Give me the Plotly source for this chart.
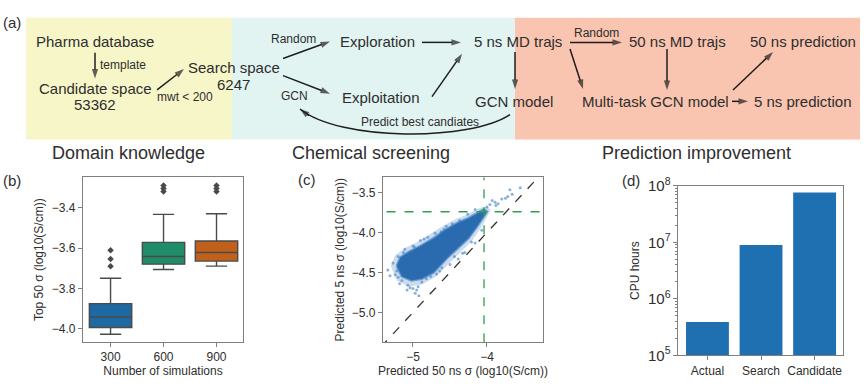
import plotly.graph_objects as go

W, H = 867, 388
FONT = "Liberation Sans, Arial, sans-serif"
TXT = "#2e2e2e"
SPINE = "#7f7f7f"

# ---------------- data: panel (b) ----------------
sims = ["300", "600", "900"]
box_q1 = [-3.994, -3.680, -3.665]
box_median = [-3.942, -3.642, -3.622]
box_q3 = [-3.876, -3.572, -3.565]
box_low = [-4.028, -3.707, -3.690]
box_high = [-3.750, -3.433, -3.430]
box_colors = ["#1d6aa3", "#1f8d6a", "#c0601b"]
out_x = ["300", "300", "300", "600", "600", "600", "900", "900", "900"]
out_y = [-3.611, -3.654, -3.690, -3.290, -3.305, -3.320, -3.290, -3.305, -3.320]

# ---------------- data: panel (c) ----------------
# outline of the dense point cloud
cloud_halo_x = [-5.30, -5.22, -5.05, -4.88, -4.70, -4.52, -4.36, -4.20, -4.08, -4.00,
                -3.95, -4.00, -4.12, -4.26, -4.42, -4.58, -4.76, -4.94, -5.10, -5.24]
cloud_halo_y = [-4.42, -4.60, -4.68, -4.65, -4.56, -4.39, -4.25, -4.10, -3.94, -3.80,
                -3.72, -3.67, -3.70, -3.77, -3.83, -3.91, -4.02, -4.12, -4.19, -4.28]
cloud_core_x = [-5.22, -5.15, -5.02, -4.88, -4.72, -4.55, -4.40, -4.25, -4.13, -4.05,
                -4.00, -4.04, -4.12, -4.25, -4.40, -4.55, -4.72, -4.90, -5.05, -5.17]
cloud_core_y = [-4.42, -4.55, -4.60, -4.58, -4.50, -4.33, -4.20, -4.07, -3.92, -3.80,
                -3.74, -3.71, -3.75, -3.82, -3.88, -3.96, -4.07, -4.17, -4.24, -4.31]
# sparse points around the cloud
sparse_x = [-3.69, -3.55, -3.66, -3.80, -3.89, -3.96, -3.85, -3.93, -3.75, -4.00, -3.88, -3.72,
            -5.24, -5.20, -4.97, -4.95, -5.07, -4.88, -5.11, -5.31, -5.22, -5.00, -4.82, -5.15,
            -4.70, -4.47, -4.26, -4.16, -5.11, -4.39, -4.61, -4.16, -4.07, -4.90, -5.00, -4.55,
            -4.30, -4.50, -5.27, -5.18, -5.04, -4.93, -4.76, -4.64, -4.33, -4.21, -4.85, -4.62,
            -5.13, -4.98, -5.34, -5.08, -4.92, -4.68, -4.44, -4.37, -4.80, -5.20, -4.58, -4.12]
sparse_y = [-3.465, -3.44, -3.52, -3.58, -3.62, -3.65, -3.64, -3.60, -3.57, -3.68, -3.66, -3.55,
            -4.53, -4.56, -4.76, -4.72, -4.66, -4.62, -4.44, -4.54, -4.48, -4.70, -4.58, -4.60,
            -4.01, -3.89, -3.77, -3.71, -4.21, -4.33, -4.44, -4.13, -3.97, -4.10, -4.17, -3.92,
            -4.25, -4.40, -4.38, -4.64, -4.69, -4.68, -4.55, -4.48, -4.26, -4.12, -4.08, -3.99,
            -4.25, -4.18, -4.47, -4.72, -4.79, -4.52, -4.30, -3.85, -4.06, -4.30, -3.96, -3.80]
diag = [-5.6, -3.0]
cut_x = -4.04   # vertical green threshold
cut_y = -3.74   # horizontal green threshold

# ---------------- data: panel (d) ----------------
cpu_cats = ["Actual", "Search", "Candidate"]
cpu_hours = [3.9e5, 9.0e6, 7.65e7]

# ---------------- diagram (a): arrows in pixel space ----------------
arrows_px = [
    (95, 44, 95, 71), (157, 83, 184, 61), (283, 50, 330, 32), (283, 68, 330, 87),
    (422, 33, 461, 33), (432, 90, 462, 45), (515, 43, 515, 82), (570, 33, 622, 33),
    (570, 40, 583, 82), (667, 40, 667, 83), (732, 95, 748, 95), (733, 83, 773, 43),
    (309, 110, 300, 103),
]

fig = go.Figure()

# panel (b) boxes
for i, s in enumerate(sims):
    fig.add_trace(go.Box(
        x=[s], q1=[box_q1[i]], median=[box_median[i]], q3=[box_q3[i]],
        lowerfence=[box_low[i]], upperfence=[box_high[i]],
        fillcolor=box_colors[i], line=dict(color="#4a4a4a", width=1.4),
        width=0.8, whiskerwidth=0.5, boxpoints=False, showlegend=False,
        xaxis="x", yaxis="y"))
fig.add_trace(go.Scatter(
    x=out_x, y=out_y, mode="markers",
    marker=dict(symbol="diamond", size=5, color="#4a4a4a"),
    showlegend=False, xaxis="x", yaxis="y"))

# panel (c) scatter cloud
fig.add_trace(go.Scatter(
    x=cloud_halo_x + cloud_halo_x[:1], y=cloud_halo_y + cloud_halo_y[:1],
    mode="lines", fill="toself", fillcolor="rgba(55,120,192,0.26)",
    line=dict(width=0), showlegend=False, xaxis="x2", yaxis="y2"))
fig.add_trace(go.Scatter(
    x=sparse_x, y=sparse_y, mode="markers",
    marker=dict(size=3, color="#4a88c8", opacity=0.65),
    showlegend=False, xaxis="x2", yaxis="y2"))
fig.add_trace(go.Scatter(
    x=cloud_core_x + cloud_core_x[:1], y=cloud_core_y + cloud_core_y[:1],
    mode="lines", fill="toself", fillcolor="#2a6aae",
    line=dict(color="rgba(50,115,185,0.6)", width=2.5),
    showlegend=False, xaxis="x2", yaxis="y2"))
fig.add_trace(go.Scatter(
    x=diag, y=diag, mode="lines", line=dict(color="#333333", width=1.3, dash="dash"),
    showlegend=False, xaxis="x2", yaxis="y2"))
fig.add_trace(go.Scatter(
    x=[cut_x, cut_x], y=diag, mode="lines", line=dict(color="#2e9e4f", width=1.3, dash="dash"),
    showlegend=False, xaxis="x2", yaxis="y2"))
fig.add_trace(go.Scatter(
    x=diag, y=[cut_y, cut_y], mode="lines", line=dict(color="#2e9e4f", width=1.3, dash="dash"),
    showlegend=False, xaxis="x2", yaxis="y2"))

# panel (d) bars
fig.add_trace(go.Bar(
    x=cpu_cats, y=cpu_hours, width=0.8, marker=dict(color="#1f70b1", line=dict(width=0)),
    showlegend=False, xaxis="x3", yaxis="y3"))

# diagram arrows (pixel-space overlay axis)
ax_x, ax_y, ax_s = [], [], []
for x0, y0, x1, y1 in arrows_px:
    ax_x += [x0, x1, None]
    ax_y += [y0, y1, None]
    ax_s += [0, 10, 0]
fig.add_trace(go.Scatter(
    x=ax_x, y=ax_y, mode="lines+markers",
    line=dict(color="#1e1e1e", width=1.5),
    marker=dict(symbol="arrow", size=ax_s, angleref="previous", color="#1e1e1e",
                line=dict(width=0)),
    showlegend=False, hoverinfo="skip", xaxis="x4", yaxis="y4"))


def px(x0, x1):
    return [x0 / W, x1 / W]


def py(top, bottom):
    return [1 - bottom / H, 1 - top / H]


axis = dict(showline=True, mirror=True, linecolor=SPINE, linewidth=1.2, ticks="outside",
            ticklen=4, tickcolor=SPINE, tickfont=dict(size=12, color=TXT, family=FONT),
            showgrid=False, zeroline=False, fixedrange=True)
tfont = dict(size=12, color=TXT, family=FONT)

fig.update_layout(
    width=W, height=H, margin=dict(l=0, r=0, t=0, b=0),
    paper_bgcolor="white", plot_bgcolor="rgba(0,0,0,0)",
    font=dict(family=FONT, color=TXT),
    xaxis=dict(axis, domain=px(83, 243), anchor="y", type="category", range=[-0.52, 2.5],
               title=dict(text="Number of simulations", font=tfont, standoff=0)),
    yaxis=dict(axis, domain=py(175, 348), anchor="x", range=[-4.066, -3.25],
               tick0=-4.0, dtick=0.2, tickformat=".1f",
               title=dict(text="Top 50 σ (log10(S/cm))", font=tfont, standoff=5)),
    xaxis2=dict(axis, domain=px(383, 543), anchor="y2", range=[-5.405, -3.243],
                tick0=-5, dtick=1,
                title=dict(text="Predicted 50 ns σ (log10(S/cm))", font=tfont, standoff=0)),
    yaxis2=dict(axis, domain=py(175, 348), anchor="x2", range=[-5.37, -3.31],
                tick0=-5, dtick=0.5, tickformat=".1f",
                title=dict(text="Predicted 5 ns σ (log10(S/cm))", font=tfont, standoff=4)),
    xaxis3=dict(axis, domain=px(678, 843), anchor="y3", type="category", range=[-0.55, 2.53]),
    yaxis3=dict(axis, domain=py(184, 362), anchor="x3", type="log", range=[5, 8],
                dtick=1, exponentformat="power",
                minor=dict(ticks="outside", ticklen=2, tickcolor=SPINE, dtick="D1"),
                title=dict(text="CPU hours", font=tfont, standoff=5)),
    xaxis4=dict(domain=[0, 1], anchor="y4", range=[0, W], visible=False, fixedrange=True),
    yaxis4=dict(domain=[0, 1], anchor="x4", range=[H, 0], visible=False, fixedrange=True),
)

# background blocks of panel (a)
blocks = [(26, 232, "#f7f6c9"), (232, 515, "#e1f4f1"), (515, 860, "#f9c4b0")]
for x0, x1, c in blocks:
    fig.add_shape(type="rect", xref="x4", yref="y4", x0=x0, x1=x1, y0=7, y1=135,
                  fillcolor=c, line=dict(width=0), layer="below")

# curved feedback arrow body
fig.add_shape(type="path", xref="x4", yref="y4",
              path="M 510,109 C 470,137 340,137 300,103",
              line=dict(color="#1e1e1e", width=1.5))


def label(text, x, y, size=15, angle=0):
    fig.add_annotation(text=text, x=x, y=y, xref="x4", yref="y4", showarrow=False,
                       font=dict(size=size, color=TXT, family=FONT),
                       xanchor="center", yanchor="middle", textangle=angle)


# panel letters
label("(a)", 12, 12, 15)
label("(b)", 12, 178, 15)
label("(c)", 307, 177, 15)
label("(d)", 631, 178, 15)

# diagram texts
label("Pharma database", 95, 32)
label("template", 123, 57, 12)
label("Candidate space", 95, 82)
label("53362", 95, 98)
label("mwt < 200", 185, 90, 12)
label("Search space", 234, 59)
label("6247", 233, 77)
label("Random", 293, 29, 12)
label("GCN", 294, 89, 12)
label("Exploration", 377, 32)
label("Exploitation", 381, 91)
label("5 ns MD trajs", 518, 32)
label("GCN model", 514, 95)
label("Predict best candiates", 420, 117, 12)
label("Random", 596, 23, 12)
label("50 ns MD trajs", 677, 32)
label("50 ns prediction", 803, 32)
label("Multi-task GCN model", 655, 95)
label("5 ns prediction", 803, 95)
label("Domain knowledge", 128, 149, 18)
label("Chemical screening", 371, 149, 18)
label("Prediction improvement", 696, 149, 18)

fig.write_html("out.html", config={"displayModeBar": False},
               post_script="document.body.style.margin='0px';")
